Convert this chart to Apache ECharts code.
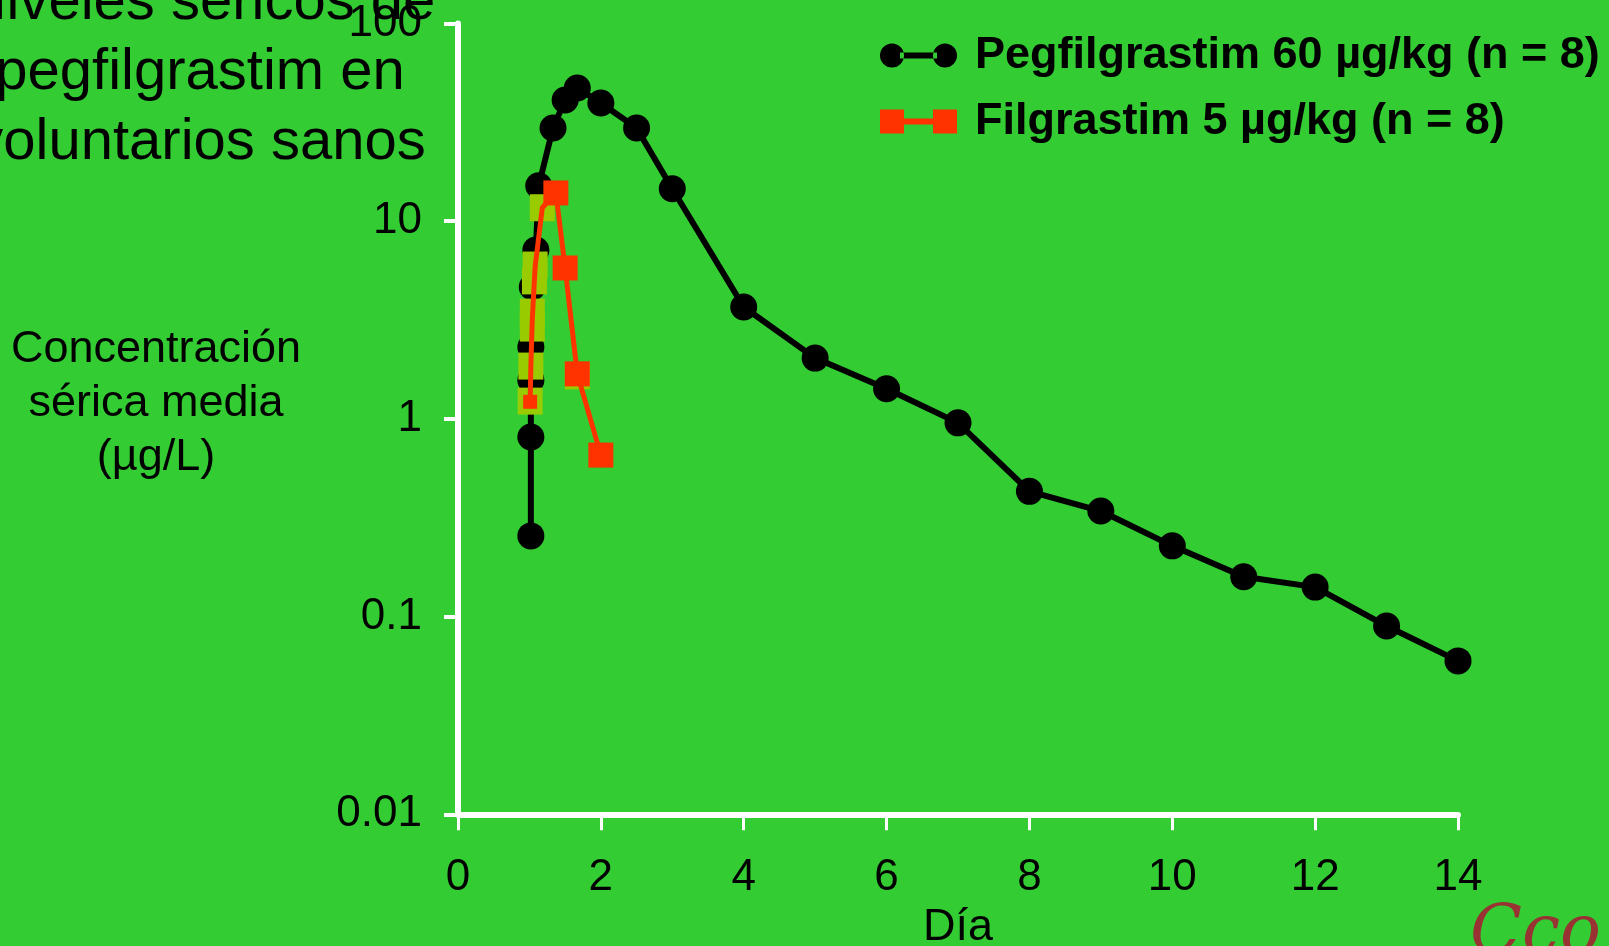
<!DOCTYPE html>
<html><head><meta charset="utf-8">
<script src="https://cdn.jsdelivr.net/npm/echarts@6/dist/echarts.min.js"></script>
<style>html,body{margin:0;padding:0;background:#33CC33;overflow:hidden}#c{width:1609px;height:946px}</style>
</head><body><div id="c"></div>
<script>
// ---- data ----
const xTicks = [0, 2, 4, 6, 8, 10, 12, 14];
const yTicks = [0.01, 0.1, 1, 10, 100];
const pegName = 'Pegfilgrastim 60 µg/kg (n = 8)';
const filName = 'Filgrastim 5 µg/kg (n = 8)';
const pegDays = [1.02, 1.02, 1.02, 1.02, 1.04, 1.09, 1.13, 1.33, 1.5, 1.67, 2.0, 2.5, 3.0, 4, 5, 6, 7, 8, 9, 10, 11, 12, 13, 14];
const pegConc = [0.256, 0.81, 1.57, 2.31, 4.65, 7.15, 15.1, 29.6, 41, 47.2, 39.6, 29.6, 14.6, 3.68, 2.03, 1.42, 0.955, 0.43, 0.342, 0.228, 0.159, 0.141, 0.0896, 0.0597];
const filDays = [1.01, 1.02, 1.04, 1.08, 1.18, 1.37, 1.5, 1.67, 2.0];
const filConc = [1.22, 1.85, 3.2, 5.9, 11.7, 13.9, 5.8, 1.69, 0.656];
const greenDays = [1.01, 1.02, 1.04, 1.04, 1.07, 1.08, 1.18, 1.67];
const greenConc = [1.23, 1.85, 2.88, 3.47, 4.99, 6.0, 11.7, 1.65];
const titleLines = ['Niveles séricos de', 'pegfilgrastim en', 'voluntarios sanos'];
const yNameLines = ['Concentración', 'sérica media', '(µg/L)'];
const xName = 'Día';

// ---- chart ----
const FONT = '"Liberation Sans", Arial, sans-serif';
const shadow = {textShadowColor: '#ffffff', textShadowOffsetX: 2, textShadowOffsetY: 2, textShadowBlur: 0};
const chart = echarts.init(document.getElementById('c'), null, {renderer: 'canvas'});

const pegData = pegDays.map((d, i) => [d, pegConc[i]]);
const filData = filDays.map((d, i) => ({
  value: [d, filConc[i]],
  symbolSize: i === 0 ? 14 : (i >= 5 ? 25 : 0)
}));
const greenData = greenDays.map((d, i) => [d, greenConc[i]]);

const circleIcon = 'path://M0,12 A12,12 0 1,0 24,12 A12,12 0 1,0 0,12 Z M53,12 A12,12 0 1,0 77,12 A12,12 0 1,0 53,12 Z M20,9 L57,9 L57,15 L20,15 Z';
const squareIcon = 'path://M0,0 L24,0 L24,24 L0,24 Z M53,0 L77,0 L77,24 L53,24 Z M20,9 L57,9 L57,15 L20,15 Z';

chart.setOption({
  backgroundColor: '#33CC33',
  animation: false,
  grid: {left: 458, right: 151, top: 23.5, bottom: 131.7, containLabel: false, outerBoundsMode: 'none'},
  legend: {
    orient: 'vertical', left: 880, top: 33, padding: 0, itemGap: 21,
    itemWidth: 77, itemHeight: 24,
    data: [{name: pegName, icon: circleIcon}, {name: filName, icon: squareIcon}],
    textStyle: Object.assign({fontFamily: FONT, fontSize: 45, fontWeight: 'bold', color: '#000', lineHeight: 45, padding: [0, 0, 0, 13]}, shadow)
  },
  xAxis: {
    type: 'value', min: 0, max: 14, interval: 2,
    name: xName, nameLocation: 'middle', nameGap: 90,
    nameTextStyle: Object.assign({fontFamily: FONT, fontSize: 45, color: '#000', lineHeight: 44}, shadow),
    axisLine: {show: true, onZero: false, lineStyle: {color: '#fff', width: 6}},
    axisTick: {show: true, inside: false, length: 16, lineStyle: {color: '#fff', width: 3}},
    splitLine: {show: false},
    axisLabel: Object.assign({fontFamily: FONT, fontSize: 44, color: '#000', margin: 42, lineHeight: 44,
      formatter: v => xTicks.includes(v) ? String(v) : ''}, shadow)
  },
  yAxis: {
    type: 'log', logBase: 10, min: yTicks[0], max: yTicks[yTicks.length - 1],
    axisLine: {show: true, lineStyle: {color: '#fff', width: 6}},
    axisTick: {show: true, inside: false, length: 14, lineStyle: {color: '#fff', width: 4}},
    splitLine: {show: false},
    axisLabel: Object.assign({fontFamily: FONT, fontSize: 44, color: '#000', margin: 36,
      formatter: v => {
        const t = yTicks.find(k => Math.abs(Math.log10(k) - Math.log10(v)) < 1e-6);
        return t === undefined ? '' : String(t);
      }}, shadow)
  },
  series: [
    {
      name: pegName, type: 'line', data: pegData, z: 2,
      symbol: 'circle', symbolSize: 27,
      itemStyle: {color: '#000'},
      lineStyle: {color: '#000', width: 6}
    },
    {
      name: 'green', type: 'scatter', data: greenData, z: 3,
      symbol: 'rect', symbolSize: [25, 27],
      itemStyle: {color: '#99CC00', opacity: 1}
    },
    {
      name: filName, type: 'line', data: filData, z: 4,
      symbol: 'rect',
      itemStyle: {color: '#FF3300'},
      lineStyle: {color: '#FF3300', width: 5}
    }
  ],
  graphic: [
    {type: 'text', silent: true, z: 10,
      style: {text: titleLines.join('\n'), x: 200, y: 73, align: 'center', verticalAlign: 'middle',
        font: '58px ' + FONT, lineHeight: 70, fill: '#000'}},
    {type: 'text', silent: true, z: 10,
      style: {text: yNameLines.join('\n'), x: 156, y: 404, align: 'center', verticalAlign: 'middle',
        font: '45px ' + FONT, lineHeight: 54, fill: '#000', textShadowColor: '#fff', textShadowOffsetX: 2, textShadowOffsetY: 2}},
    {type: 'text', silent: true, z: 10,
      style: {text: 'Cco', x: 1470, y: 900, font: 'italic 68px "DejaVu Serif", serif', fill: '#993333'}}
  ]
});
</script>
</body></html>
